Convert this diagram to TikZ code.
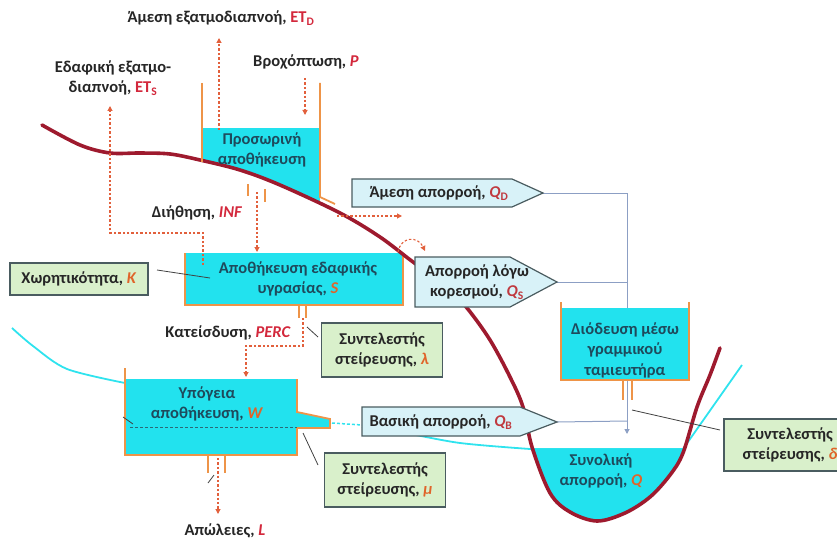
\documentclass[tikz,border=0pt]{standalone}
\usepackage{fontspec}
\setmainfont{Carlito}[BoldFont={Carlito Bold},ItalicFont={Carlito Italic},BoldItalicFont={Carlito Bold Italic}]
\usetikzlibrary{arrows.meta}
\definecolor{water}{HTML}{22E2EE}
\definecolor{wall}{HTML}{EE9448}
\definecolor{groundc}{HTML}{9E1A2E}
\definecolor{gw}{HTML}{2FE3EE}
\definecolor{tanktxt}{HTML}{1E4A5C}
\definecolor{dark}{HTML}{262626}
\definecolor{lab}{HTML}{D3283C}
\definecolor{sym}{HTML}{E0642A}
\definecolor{qsym}{HTML}{C0393F}
\definecolor{flow}{HTML}{E2603C}
\definecolor{boxblue}{HTML}{D8F2F8}
\definecolor{boxgreen}{HTML}{D9F0CB}
\definecolor{boxline}{HTML}{4A5C60}
\definecolor{route}{HTML}{8C9FC4}
\definecolor{gwdash}{HTML}{2A6A78}
\begin{document}
\begin{tikzpicture}[x=1pt,y=-1pt,
  every node/.style={font=\fontsize{16.5}{20.5}\selectfont\bfseries, text=dark, inner sep=0pt, align=center},
  tanktext/.style={text=tanktxt},
  wallline/.style={draw=wall, line width=1.8pt},
  groundline/.style={draw=groundc, line width=3.6pt, line cap=round},
  gwline/.style={draw=gw, line width=1.8pt},
  flowline/.style={draw=flow, line width=1.1pt, dash pattern=on 2.4pt off 2pt, -{Triangle[length=5pt,width=5pt]}},
  routeline/.style={draw=route, line width=1pt},
  pointer/.style={draw=black!75, line width=0.8pt},
  bluebox/.style={fill=boxblue, draw=boxline, line width=1.2pt},
  greenbox/.style={rectangle, fill=boxgreen, draw=boxline, line width=1.2pt, inner sep=0pt},
]
\useasboundingbox (0,0) rectangle (837,540);

% groundwater level (cyan)
\draw[gwline] plot[smooth] coordinates {(12,328) (33,346) (67,369) (125,383)};
\draw[gwline] plot[smooth] coordinates {(362,427) (400,432) (460,443) (530,449)};
\draw[gwline] (530,449) -- (683,449) -- (742,365);

% total runoff water
\begin{scope}
\clip plot[smooth,tension=0.55] coordinates {(42,125) (80,145) (110,153) (140,153) (170,154) (200,160) (240,170) (280,185) (340,213) (380,237) (413,262) (445,285) (467,308) (490,340) (510,377) (523,407) (532,447) (550,493) (570,512) (597,521) (625,513) (650,497) (670,475) (683,453) (697,407) (710,375) (720,348)} -- cycle;
\fill[water] (500,449) rectangle (730,540);
\end{scope}

% temporary storage water (above ground surface)
\begin{scope}
\clip plot[smooth,tension=0.55] coordinates {(42,125) (80,145) (110,153) (140,153) (170,154) (200,160) (240,170) (280,185) (340,213) (380,237) (413,262) (445,285) (467,308) (490,340) (510,377) (523,407) (532,447) (550,493) (570,512) (597,521) (625,513) (650,497) (670,475) (683,453) (697,407) (710,375) (720,348)} -- (720,0) -- (42,0) -- cycle;
\fill[water] (202,128) rectangle (320,215);
\end{scope}

% soil moisture tank
\fill[water] (185,253) rectangle (403,305);
\draw[wallline] (185,253) -- (185,305) -- (403,305) -- (403,253);
\draw[wallline] (299,305) -- (299,318);
\draw[wallline] (306,305) -- (306,318);

% groundwater tank
\fill[water] (125,379) -- (297,379) -- (297,412) -- (330,419) -- (330,428) -- (297,428) -- (297,455) -- (125,455) -- cycle;
\draw[wallline] (125,368) -- (125,455) -- (297,455) -- (297,428) -- (330,428) -- (330,419) -- (297,412) -- (297,379);
\draw[wallline] (208,455) -- (208,473);
\draw[wallline] (225,455) -- (225,473);
\draw[draw=gwdash, line width=1pt, dash pattern=on 3pt off 2pt] (130,427) -- (297,427);
\draw[draw=gw, line width=1.5pt, dash pattern=on 3pt off 2pt] (332,423) -- (362,425);

% ground surface
\draw[groundline] plot[smooth,tension=0.55] coordinates {(42,125) (80,145) (110,153) (140,153) (170,154) (200,160) (240,170) (280,185) (340,213) (380,237) (413,262) (445,285) (467,308) (490,340) (510,377) (523,407) (532,447) (550,493) (570,512) (597,521) (625,513) (650,497) (670,475) (683,453) (697,407) (710,375) (720,348)};

% temporary storage walls
\draw[wallline] (202,83) -- (202,162);
\draw[wallline] (320,83) -- (320,197) -- (335,204);
\draw[wallline] (248,184) -- (248,196);
\draw[wallline] (265,189) -- (265,202);

% routing lines
\coordinate (qdtip) at (543,193);
\coordinate (qstip) at (557,282);
\coordinate (qbtip) at (557,422);
\coordinate (rj1) at (627,193);
\coordinate (rj2) at (627,282);
\coordinate (rj3) at (627,421);
\coordinate (rend) at (627,434);
\draw[routeline] (qdtip) -- (rj1);
\draw[routeline] (qstip) -- (rj2);
\draw[routeline] (qbtip) -- (rj3);
\draw[routeline, -{Triangle[length=5pt,width=5pt]}] (rj1) -- (rend);

% linear reservoir tank
\fill[water] (561,308) rectangle (689,380);
\draw[wallline] (561,302) -- (561,380) -- (689,380) -- (689,302);
\draw[wallline] (623,380) -- (623,400);
\draw[wallline] (632,380) -- (632,400);

% runoff boxes
\path[bluebox] (352,179) -- (512,179) -- (qdtip) -- (512,207) -- (352,207) -- cycle;
\path[bluebox] (415,257) -- (510,257) -- (qstip) -- (510,307) -- (415,307) -- cycle;
\path[bluebox] (362,407) -- (520,407) -- (qbtip) -- (520,436) -- (362,436) -- cycle;
\node (qd) at (439,193) {Άμεση απορροή, \textcolor{qsym}{\textit{Q}\textsubscript{D}}};
\node (qs) at (477,282) {Απορροή λόγω\\κορεσμού, \textcolor{qsym}{\textit{Q}\textsubscript{S}}};
\node (qb) at (441,422) {Βασική απορροή, \textcolor{qsym}{\textit{Q}\textsubscript{B}}};

% tank texts
\node[tanktext] (tmp) at (262,150) {Προσωρινή\\αποθήκευση};
\node[tanktext] (soil) at (298,279) {Αποθήκευση εδαφικής\\υγρασίας, \textcolor{sym}{\textit{S}}};
\node[tanktext] (gwt) at (207,404) {Υπόγεια\\αποθήκευση, \textcolor{sym}{\textit{W}}};
\node[tanktext] (lin) at (625,350) {Διόδευση μέσω\\γραμμικού\\ταμιευτήρα};
\node[tanktext] (tot) at (601,471) {Συνολική\\απορροή, \textcolor{sym}{\textit{Q}}};

% free labels
\node (etd) at (221,18) {Άμεση εξατμοδιαπνοή, \textcolor{lab}{ET\textsubscript{D}}};
\node (prec) at (306,62) {Βροχόπτωση, \textcolor{lab}{\textit{P}}};
\node (ets) at (113,78) {Εδαφική εξατμο-\\διαπνοή, \textcolor{lab}{ET\textsubscript{S}}};
\node (inf) at (197,213) {Διήθηση, \textcolor{lab}{\textit{INF}}};
\node (perc) at (228,333) {Κατείσδυση, \textcolor{lab}{\textit{PERC}}};
\node (loss) at (225,531) {Απώλειες, \textcolor{lab}{\textit{L}}};

% green parameter boxes
\node[greenbox, minimum width=138, minimum height=32] (kbox) at (79,279) {Χωρητικότητα, \textcolor{sym}{\textit{K}}};
\node[greenbox, minimum width=121, minimum height=54] (lbox) at (382,350) {Συντελεστής\\στείρευσης, \textcolor{sym}{\textit{λ}}};
\node[greenbox, minimum width=121, minimum height=54] (mbox) at (385,480) {Συντελεστής\\στείρευσης, \textcolor{sym}{\textit{μ}}};
\node[greenbox, minimum width=132, minimum height=52] (dbox) at (790,445) {Συντελεστής\\στείρευσης, \textcolor{sym}{\textit{δ}}};

% pointers
\coordinate (kp) at (210,278);
\coordinate (lp) at (307,327);
\coordinate (mp) at (303,433);
\coordinate (dp) at (632,410);
\draw[pointer] (157,270) -- (kp);
\draw[pointer] (lp) -- (318,337);
\draw[pointer] (mp) -- (318,465);
\draw[pointer] (dp) -- (720,430);
\draw[pointer] (123,417) -- (133,424);
\draw[pointer] (208,483) -- (214,475);

% flows (dotted arrows)
\coordinate (tmptop) at (219,130);
\coordinate (etdend) at (219,38);
\coordinate (pstart) at (305,78);
\coordinate (pend) at (305,115);
\coordinate (soilout) at (203,265);
\coordinate (etsend) at (110,106);
\coordinate (infs) at (257,192);
\coordinate (infe) at (257,252);
\coordinate (ovs) at (337,216);
\coordinate (ove) at (402,216);
\coordinate (sats) at (398,252);
\coordinate (sate) at (425,251);
\coordinate (percs) at (303,318);
\coordinate (perce) at (246,377);
\coordinate (losss) at (218,458);
\coordinate (losse) at (218,514);
\draw[flowline] (tmptop) -- (etdend);
\draw[flowline] (pstart) -- (pend);
\draw[flowline] (soilout) -- (203,233) -- (110,233) -- (etsend);
\draw[flowline] (infs) -- (infe);
\draw[flowline] (ovs) -- (ove);
\draw[flowline] (sats) .. controls (401,236) and (418,236) .. (sate);
\draw[flowline] (percs) -- (303,346) -- (246,346) -- (perce);
\draw[flowline] (losss) -- (losse);
\end{tikzpicture}
\end{document}
